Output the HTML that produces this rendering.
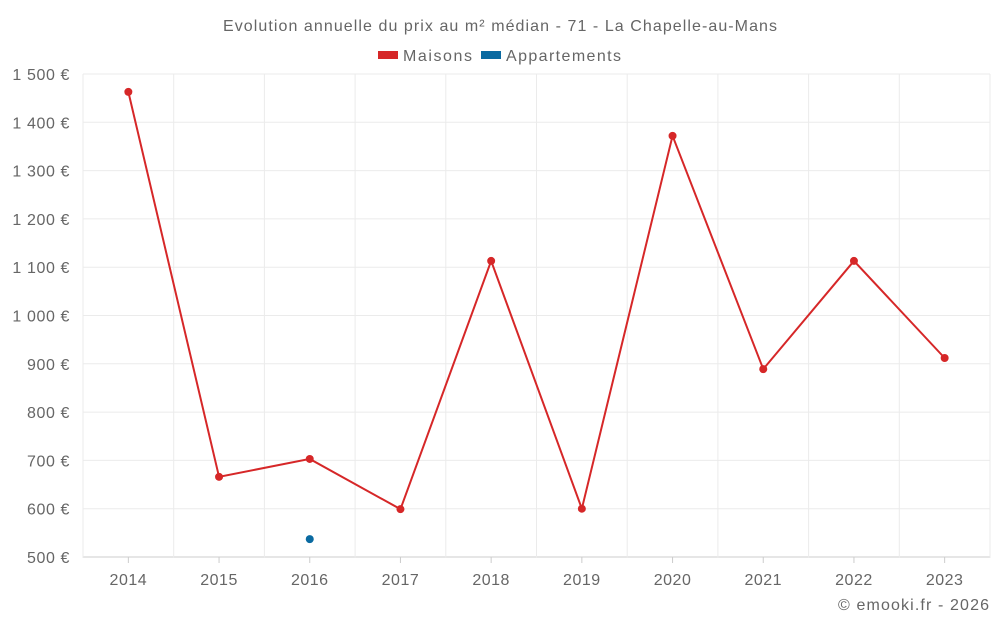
<!DOCTYPE html>
<html><head><meta charset="utf-8">
<style>
html,body{margin:0;padding:0;background:#fff;}
svg{display:block;font-family:"Liberation Sans",Roboto,sans-serif;}
</style></head>
<body>
<svg id="chart" width="1000" height="625" viewBox="0 0 1000 625">
<text x="223" y="31" textLength="554" lengthAdjust="spacing" font-size="16" fill="#666">Evolution annuelle du prix au m² médian - 71 - La Chapelle-au-Mans</text>
<g>
<g>
<rect x="378" y="51" width="20" height="8" fill="#d62728"/>
<text x="403" y="61" font-size="16" fill="#666" textLength="69" lengthAdjust="spacing">Maisons</text>
</g>
<g>
<rect x="481" y="51" width="20" height="8" fill="#0a6aa1"/>
<text x="506" y="61" font-size="16" fill="#666" textLength="115" lengthAdjust="spacing">Appartements</text>
</g>
</g>
<g id="grid"></g>
<g id="axes"></g>
<g id="series"></g>
<text x="838" y="610" textLength="151" lengthAdjust="spacing" font-size="16" fill="#666">© emooki.fr - 2026</text>
</svg>
<script>
const years = ["2014","2015","2016","2017","2018","2019","2020","2021","2022","2023"];
const maisons = [1463,666,703,599,1113,600,1372,889,1113,912];
const appartements = [null,null,537,null,null,null,null,null,null,null];
const yTicks = [500,600,700,800,900,1000,1100,1200,1300,1400,1500];
const yTickLabels = ["500 €","600 €","700 €","800 €","900 €","1 000 €","1 100 €","1 200 €","1 300 €","1 400 €","1 500 €"];

const L=83,R=990,T=74,B=557,yMin=500,yMax=1500;
const NS="http://www.w3.org/2000/svg";
const band=(R-L)/years.length;
const x=i=>L+band*(i+0.5);
const y=v=>B-(v-yMin)/(yMax-yMin)*(B-T);
function mk(tag,attrs,parent){const e=document.createElementNS(NS,tag);for(const k in attrs)e.setAttribute(k,attrs[k]);parent.appendChild(e);return e;}
const grid=document.getElementById('grid'),axes=document.getElementById('axes'),series=document.getElementById('series');
yTicks.forEach((v,i)=>{
  const g=mk('line',{x1:L,x2:R,y1:y(v),y2:y(v),stroke:i===0?'#ccc':'#ebebeb','stroke-width':1},grid);
  
  
  const t=mk('text',{x:70,y:y(v)+6,'text-anchor':'end','font-size':16,fill:'#666','letter-spacing':'0.6'},axes);
  t.textContent=yTickLabels[i];
  
  
});
for(let i=0;i<=years.length;i++){
  const g=mk('line',{x1:L+band*i,x2:L+band*i,y1:T,y2:B+1,stroke:'#ebebeb','stroke-width':1},grid);
  
  
  if(i<years.length){
    const tk=mk('line',{x1:x(i),x2:x(i),y1:B,y2:B+6,stroke:'#ccc'},axes);
    
    
    const t=mk('text',{x:x(i),y:585,'text-anchor':'middle','font-size':16,fill:'#666','letter-spacing':'0.5'},axes);
    t.textContent=years[i];
    
    
  }
}
let d='';
maisons.forEach((v,i)=>{if(v!=null)d+=(d?'L':'M')+x(i)+','+y(v);});
const p=mk('path',{d:d,fill:'none',stroke:'#d62728','stroke-width':2},series);


maisons.forEach((v,i)=>{if(v==null)return;
  const c=mk('circle',{cx:x(i),cy:y(v),r:4,fill:'#d62728'},series);
  
  
});
appartements.forEach((v,i)=>{if(v==null)return;
  const c=mk('circle',{cx:x(i),cy:y(v),r:4,fill:'#0a6aa1'},series);
  
  
});
</script>
</body></html>
